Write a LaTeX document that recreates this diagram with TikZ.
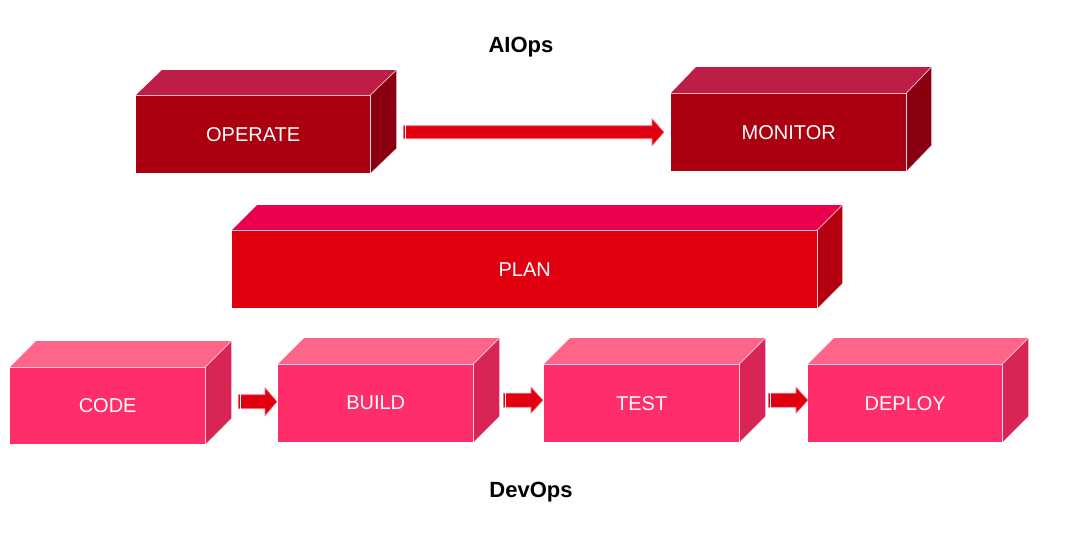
\documentclass[tikz,border=0pt]{standalone}
\usepackage{fontspec}
\setmainfont{Liberation Sans}
\usetikzlibrary{calc}
\definecolor{dkfront}{HTML}{AA000F}
\definecolor{dktop}{HTML}{BE1E45}
\definecolor{dkside}{HTML}{8B0010}
\definecolor{plfront}{HTML}{E0000F}
\definecolor{pltop}{HTML}{EB004E}
\definecolor{plside}{HTML}{B5000F}
\definecolor{pkfront}{HTML}{FF2D6A}
\definecolor{pktop}{HTML}{FF6489}
\definecolor{pkside}{HTML}{D92556}
\definecolor{arrred}{HTML}{E0000F}
\definecolor{arredge}{HTML}{F27A8C}
\newcommand{\cubefaces}[5]{% #1 node, #2 dx, #3 dy, #4 top colour, #5 side colour
  \fill[#4] (#1.north west) -- ++(#2,-#3) -- ($(#1.north east)+(#2,-#3)$) -- (#1.north east) -- cycle;
  \fill[#5] (#1.north east) -- ++(#2,-#3) -- ($(#1.south east)+(#2,-#3)$) -- (#1.south east) -- cycle;
  \draw[cubeedge] (#1.north west) -- (#1.north east) -- (#1.south east);
  \draw[cubeedge] (#1.north east) -- ++(#2,-#3);
  \draw[cubeedge, draw opacity=0.35] (#1.south east) -- ++(#2,-#3);
}
\newcommand{\blkarrow}[5]{% #1 start, #2 end, #3 shaft half, #4 head half, #5 head length
  \path[fill=arrred, draw=arredge, line width=0.6pt] let \p1=(#1), \p2=(#2) in
    (\x1,\y1+#3pt) -- (\x2-#5pt,\y1+#3pt) -- (\x2-#5pt,\y1+#4pt) -- (\x2,\y1)
    -- (\x2-#5pt,\y1-#4pt) -- (\x2-#5pt,\y1-#3pt) -- (\x1,\y1-#3pt) -- cycle;
  \draw[white, line width=1pt] let \p1=(#1) in (\x1+2pt,\y1+#3pt+0.5pt) -- (\x1+2pt,\y1-#3pt-0.5pt);
}
\begin{document}
\begin{tikzpicture}[x=1pt,y=-1pt,
  face/.style={rectangle, inner sep=0pt, anchor=north west, text=white,
    font=\fontsize{20}{23}\selectfont},
  cubeedge/.style={draw=white, draw opacity=0.75, line width=0.7pt},
  title/.style={anchor=base, font=\bfseries\fontsize{22}{26}\selectfont}]
\useasboundingbox (0,0) rectangle (1078,533);

% titles
\node[title] (aiops) at (521,52) {AIOps};
\node[title] (devops) at (531,497) {DevOps};

% AIOps cubes
\node[face, fill=dkfront, minimum width=234pt, minimum height=78pt] (op) at (136,95) {OPERATE};
\cubefaces{op}{26}{25}{dktop}{dkside}
\node[face, fill=dkfront, minimum width=235pt, minimum height=78pt] (mon) at (671,93) {MONITOR};
\cubefaces{mon}{25}{26}{dktop}{dkside}

% PLAN
\node[face, fill=plfront, minimum width=585pt, minimum height=78pt] (plan) at (232,230) {PLAN};
\cubefaces{plan}{25}{25}{pltop}{plside}

% DevOps cubes
\node[face, fill=pkfront, minimum width=195pt, minimum height=77pt] (code) at (10,367) {CODE};
\cubefaces{code}{26}{26}{pktop}{pkside}
\node[face, fill=pkfront, minimum width=195pt, minimum height=78pt] (build) at (278,364) {BUILD};
\cubefaces{build}{26}{26}{pktop}{pkside}
\node[face, fill=pkfront, minimum width=195pt, minimum height=78pt] (test) at (544,364) {TEST};
\cubefaces{test}{26}{26}{pktop}{pkside}
\node[face, fill=pkfront, minimum width=194pt, minimum height=78pt] (deploy) at (808,364) {DEPLOY};
\cubefaces{deploy}{26}{26}{pktop}{pkside}

% arrows
\blkarrow{$(op.east)+(33,-2)$}{$(mon.west)+(-7,0)$}{6.5}{13.5}{12}
\blkarrow{$(code.east)+(33,-4)$}{$(build.west)+(-1,0)$}{7}{14}{12}
\blkarrow{$(build.east)+(30,-3)$}{$(test.west)+(-1,0)$}{7}{13}{12}
\blkarrow{$(test.east)+(29,-3)$}{$(deploy.west)+(0,0)$}{7}{13}{12}
\end{tikzpicture}
\end{document}
